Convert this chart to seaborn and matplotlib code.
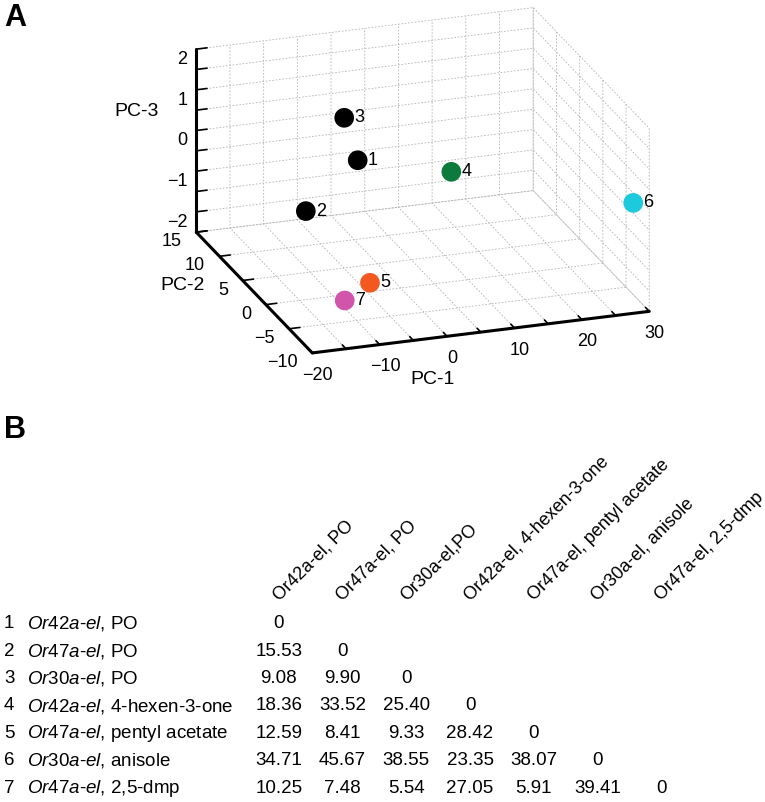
import matplotlib
matplotlib.use("Agg")
import matplotlib.pyplot as plt
import matplotlib.transforms as mtransforms
from matplotlib.colors import ListedColormap
import seaborn as sns
import numpy as np

sns.set_theme(style="white")
plt.rcParams['font.family'] = ['Liberation Sans', 'DejaVu Sans']
plt.rcParams['mathtext.fontset'] = 'custom'
plt.rcParams['mathtext.rm'] = 'Liberation Sans'
plt.rcParams['mathtext.it'] = 'Liberation Sans:italic'
plt.rcParams['text.color'] = 'black'
plt.rcParams['axes.labelcolor'] = 'black'
plt.rcParams['xtick.color'] = 'black'
plt.rcParams['ytick.color'] = 'black'
plt.rcParams['grid.color'] = '0.7'
plt.rcParams['grid.linestyle'] = (0, (2, 2))
plt.rcParams['grid.linewidth'] = 0.6

# PCA scores
point_ids = ['1', '2', '3', '4', '5', '6', '7']
pc1 = [-3.0, -16.0, -7.0, 8.0, -6.0, 29.0, -11.6]
pc2 = [4.9, -2.8, 2.0, 0.7, -2.1, -8.0, -4.8]
pc3 = [0.62, 0.55, 2.09, 0.61, -1.5, 0.45, -1.5]
point_colors = ['black', 'black', 'black', '#0b7a3b', '#f2581f', '#1cc9dd', '#d156ab']

x_ticks = list(range(-20, 31, 5))
y_ticks = list(range(-10, 16, 5))
z_ticks = list(np.arange(-2, 2.51, 0.5))

# panel B table
genes = ['Or42a-el', 'Or47a-el', 'Or30a-el', 'Or42a-el', 'Or47a-el', 'Or30a-el', 'Or47a-el']
odors = ['PO', 'PO', 'PO', '4-hexen-3-one', 'pentyl acetate', 'anisole', '2,5-dmp']
col_labels = ['Or42a-el, PO', 'Or47a-el, PO', 'Or30a-el,PO', 'Or42a-el, 4-hexen-3-one',
              'Or47a-el, pentyl acetate', 'Or30a-el, anisole', 'Or47a-el, 2,5-dmp']
distances = [
    [0],
    [15.53, 0],
    [9.08, 9.90, 0],
    [18.36, 33.52, 25.40, 0],
    [12.59, 8.41, 9.33, 28.42, 0],
    [34.71, 45.67, 38.55, 23.35, 38.07, 0],
    [10.25, 7.48, 5.54, 27.05, 5.91, 39.41, 0],
]


def minus(v):
    return str(v).replace('-', '\u2212')


fig = plt.figure(figsize=(7.65, 8.02), dpi=100)

# ---- panel A: 3D PCA scatter (3D axes are kept square, so give it a square box)
ax = fig.add_axes([166 / 765, 1 - 437 / 802, 500 / 765, 500 / 802], projection='3d')
ax.set_proj_type('ortho')
ax.view_init(elev=21, azim=-109)
ax.set_box_aspect((1, 1, 0.55), zoom=1.05)

ax.scatter(pc1, pc2, pc3, c=point_colors, s=200, depthshade=False,
           edgecolors='none', alpha=1)
lab_tr = mtransforms.offset_copy(ax.transData, fig=fig, x=10, y=0, units='dots')
for x, y, z, t in zip(pc1, pc2, pc3, point_ids):
    ax.text(x, y, z, t, fontsize=13, va='center', ha='left', transform=lab_tr)

ax.set_xlim(-20, 30)
ax.set_ylim(-10, 15)
ax.set_zlim(-2, 2.5)
ax.set_xticks(x_ticks)
ax.set_xticklabels([minus(t) if t % 10 == 0 else '' for t in x_ticks])
ax.set_yticks(y_ticks)
ax.set_yticklabels([minus(t) for t in y_ticks], ha='right', va='center')
ax.set_zticks(z_ticks)
ax.set_zticklabels([minus(int(t)) if t == int(t) and t < 2.5 else '' for t in z_ticks],
                   ha='right', va='bottom')
ax.tick_params(labelsize=13, colors='black')
ax.xaxis.set_tick_params(pad=0.5)
ax.yaxis.set_tick_params(pad=0)
ax.zaxis.set_tick_params(pad=-4.4)

for axis in (ax.xaxis, ax.yaxis, ax.zaxis):
    axis.set_pane_color((1, 1, 1, 0))
    axis.pane.set_edgecolor('0.5')
    axis.pane.set_linewidth(0.8)
    axis.line.set_color('black')
    axis.line.set_linewidth(2.2)
    axis._axinfo['grid'].update({'color': '0.7', 'linestyle': (0, (2, 2)), 'linewidth': 0.6})
    axis._axinfo['tick']['inward_factor'] = 0.0
    axis._axinfo['tick']['outward_factor'] = 0.4
    axis._axinfo['tick']['linewidth'] = {True: 1.2, False: 1.2}
    axis._axinfo['tick']['color'] = 'black'

fig.text(433 / 765, 1 - 380 / 802, 'PC-1', fontsize=14, ha='center', va='center')
fig.text(183 / 765, 1 - 285 / 802, 'PC-2', fontsize=14, ha='center', va='center')
fig.text(137 / 765, 1 - 112 / 802, 'PC-3', fontsize=14, ha='center', va='center')
fig.text(4 / 765, 1 - 18 / 802, 'A', fontsize=22, fontweight='bold', va='center')
fig.text(4 / 765, 1 - 430 / 802, 'B', fontsize=22, fontweight='bold', va='center')

# ---- panel B: distance table
n = len(genes)
mat = np.full((n, n), np.nan)
annot = np.full((n, n), '', dtype=object)
for i, row in enumerate(distances):
    for j, v in enumerate(row):
        mat[i, j] = v
        annot[i, j] = '0' if v == 0 else f'{v:.2f}'
mask = np.isnan(mat)

ax2 = fig.add_axes([247 / 765, 0.0, 446 / 765, 192 / 802])
sns.heatmap(mat, mask=mask, cmap=ListedColormap(['white']), annot=annot, fmt='',
            cbar=False, annot_kws={'fontsize': 13.5, 'color': 'black'}, ax=ax2)
ax2.xaxis.tick_top()
ax2.set_xticks(np.arange(n) + 0.5)
ax2.set_xticklabels(col_labels, rotation=45, ha='left', va='baseline',
                    rotation_mode='anchor', fontsize=13)
shift = mtransforms.ScaledTranslation(-13 / 100, 0, fig.dpi_scale_trans)
for lab in ax2.get_xticklabels():
    lab.set_transform(lab.get_transform() + shift)
ax2.tick_params(axis='x', length=0, pad=6)
ax2.set_yticks([])
for sp in ax2.spines.values():
    sp.set_visible(False)

row_tr = mtransforms.blended_transform_factory(fig.transFigure, ax2.transData)
for i, (g, o) in enumerate(zip(genes, odors)):
    ax2.text(4 / 765, i + 0.5, str(i + 1), transform=row_tr, fontsize=13.5, va='center')
    ax2.text(27 / 765, i + 0.5, r'$\mathit{' + g.split('-')[0] + r'}$-$\mathit{el}$, ' + o,
             transform=row_tr, fontsize=13.5, va='center')

fig.savefig('out.png', dpi=100)
